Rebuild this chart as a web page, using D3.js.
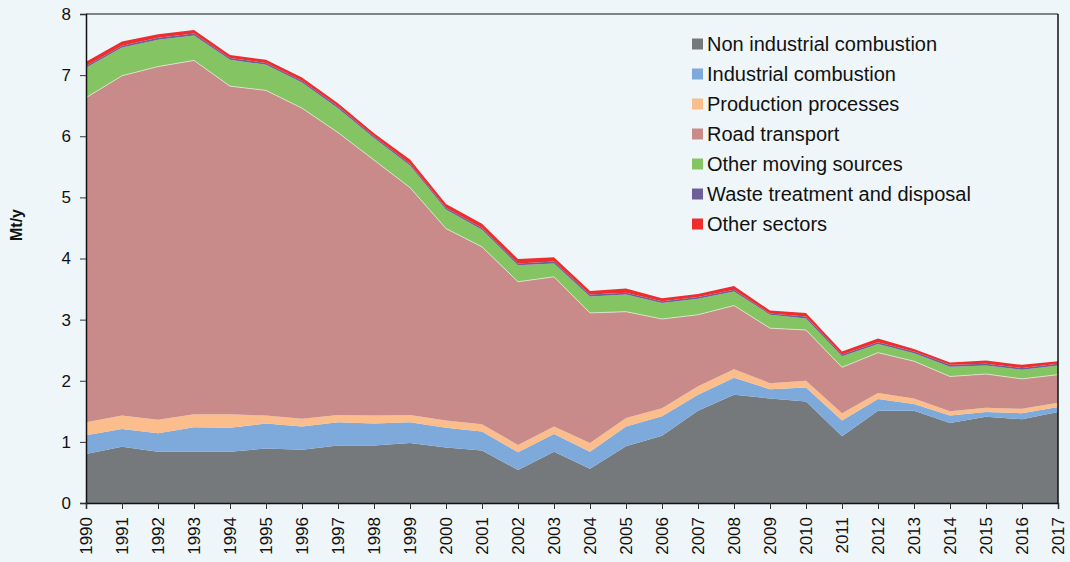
<!DOCTYPE html>
<html>
<head>
<meta charset="utf-8">
<script src="https://cdn.jsdelivr.net/npm/d3@7"></script>
<style>
  body { margin: 0; background: #eef6fa; }
  svg { display: block; font-family: "Liberation Sans", Arial, sans-serif; }
</style>
</head>
<body>
<svg class="chart" width="1070" height="562"></svg>
<script>
// stacked area of emissions by sector, Mt/y

var years = d3.range(1990, 2018);

var sectors = ["Non industrial combustion", "Industrial combustion", "Production processes",
               "Road transport", "Other moving sources", "Waste treatment and disposal", "Other sectors"];

// values, one entry per year 1990..2017
var nonIndustrial = [0.80, 0.92, 0.84, 0.84, 0.84, 0.89, 0.87, 0.94, 0.94, 0.98, 0.91, 0.86, 0.54, 0.84,
                     0.56, 0.93, 1.10, 1.51, 1.77, 1.71, 1.66, 1.09, 1.51, 1.51, 1.31, 1.41, 1.37, 1.49];
var industrial    = [0.31, 0.29, 0.30, 0.40, 0.39, 0.41, 0.38, 0.38, 0.36, 0.34, 0.32, 0.31, 0.29, 0.29,
                     0.28, 0.32, 0.32, 0.26, 0.28, 0.15, 0.23, 0.26, 0.19, 0.11, 0.12, 0.08, 0.10, 0.08];
var production    = [0.21, 0.22, 0.22, 0.21, 0.22, 0.13, 0.13, 0.12, 0.13, 0.12, 0.12, 0.12, 0.12, 0.12,
                     0.14, 0.14, 0.13, 0.14, 0.14, 0.10, 0.11, 0.12, 0.10, 0.09, 0.07, 0.07, 0.07, 0.07];
var road          = [5.31, 5.56, 5.78, 5.79, 5.37, 5.32, 5.08, 4.62, 4.18, 3.72, 3.14, 2.90, 2.67, 2.45,
                     2.13, 1.74, 1.46, 1.17, 1.04, 0.90, 0.83, 0.75, 0.66, 0.61, 0.57, 0.55, 0.49, 0.46];
var otherMoving   = [0.49, 0.46, 0.44, 0.41, 0.43, 0.42, 0.42, 0.40, 0.36, 0.36, 0.31, 0.28, 0.27, 0.22,
                     0.27, 0.28, 0.26, 0.26, 0.23, 0.22, 0.19, 0.18, 0.14, 0.13, 0.16, 0.14, 0.15, 0.15];
var waste         = [0.03, 0.03, 0.03, 0.03, 0.03, 0.03, 0.03, 0.03, 0.03, 0.03, 0.03, 0.03, 0.03, 0.03,
                     0.03, 0.03, 0.03, 0.03, 0.03, 0.02, 0.03, 0.03, 0.03, 0.03, 0.03, 0.03, 0.03, 0.03];
var otherSectors  = [0.07, 0.07, 0.06, 0.06, 0.05, 0.05, 0.05, 0.05, 0.05, 0.07, 0.06, 0.07, 0.07, 0.07,
                     0.06, 0.07, 0.05, 0.05, 0.06, 0.05, 0.06, 0.05, 0.06, 0.04, 0.04, 0.05, 0.05, 0.04];

var yTicks = [0, 1, 2, 3, 4, 5, 6, 7, 8];

var colors = ["#76797b", "#7eaadb", "#fbbd8b", "#c88b8a", "#84c462", "#6f5f98", "#ee2d2f"];

var series = [nonIndustrial, industrial, production, road, otherMoving, waste, otherSectors];

// build rows for d3.stack
var rows = years.map(function (yr, i) {
  var row = { year: yr };
  sectors.forEach(function (s, j) { row[s] = series[j][i]; });
  return row;
});

var svg = d3.select(".chart"),
    margin = { top: 14, right: 12, bottom: 59, left: 86 },
    width = +svg.attr("width") - margin.left - margin.right,
    height = +svg.attr("height") - margin.top - margin.bottom;

var g = svg.append("g").attr("transform", "translate(" + margin.left + "," + margin.top + ")");

var x = d3.scaleLinear().domain([1990, 2017]).range([0, width]);
var y = d3.scaleLinear().domain([0, 8]).range([height, 0]);

var stacked = d3.stack().keys(sectors)(rows);

var area = d3.area()
    .x(function (d) { return x(d.data.year); })
    .y0(function (d) { return y(d[0]); })
    .y1(function (d) { return y(d[1]); });

g.selectAll(".layer")
  .data(stacked)
  .enter().append("path")
    .attr("class", "layer")
    .attr("d", area)
    .attr("fill", function (d, i) { return colors[i]; });

// thin light line on top of road transport, as in the original
g.append("path")
  .datum(stacked[3])
  .attr("fill", "none")
  .attr("stroke", "#e4e9d8")
  .attr("stroke-width", 0.8)
  .attr("d", d3.line()
      .x(function (d) { return x(d.data.year); })
      .y(function (d) { return y(d[1]); }));

// frame: top and right
g.append("line").attr("x1", 0).attr("x2", width).attr("y1", 0).attr("y2", 0)
  .attr("stroke", "#5a5e62").attr("stroke-width", 1.5);
g.append("line").attr("x1", width).attr("x2", width).attr("y1", 0).attr("y2", height)
  .attr("stroke", "#111").attr("stroke-width", 1.5);

// y axis
var yAxis = g.append("g")
  .call(d3.axisLeft(y).tickValues(yTicks).tickSize(6).tickPadding(9).tickFormat(d3.format("d")));
yAxis.select(".domain").attr("stroke", "#111").attr("stroke-width", 1.5);
yAxis.selectAll(".tick line").attr("stroke", "#333");
yAxis.selectAll(".tick text").attr("font-size", 17).attr("fill", "#111")
  .attr("font-family", "'Liberation Sans', Arial, sans-serif");

// x axis with rotated year labels
var xAxis = g.append("g")
  .attr("transform", "translate(0," + height + ")")
  .call(d3.axisBottom(x).tickValues(years).tickSize(6).tickFormat(d3.format("d")));
xAxis.select(".domain").attr("stroke", "#111").attr("stroke-width", 1.5);
xAxis.selectAll(".tick line").attr("stroke", "#333");
xAxis.selectAll(".tick text")
  .attr("font-size", 17).attr("fill", "#111")
  .attr("font-family", "'Liberation Sans', Arial, sans-serif")
  .attr("transform", "rotate(-90)")
  .attr("text-anchor", "end")
  .attr("x", -14).attr("y", 0).attr("dy", "0.35em");

// y label
svg.append("text")
  .attr("transform", "translate(22,225) rotate(-90)")
  .attr("text-anchor", "middle")
  .attr("font-size", 16).attr("font-weight", "bold").attr("fill", "#111")
  .text("Mt/y");

// legend
var legend = svg.append("g").attr("transform", "translate(692,44)");
var item = legend.selectAll(".item")
  .data(sectors)
  .enter().append("g")
    .attr("class", "item")
    .attr("transform", function (d, i) { return "translate(0," + (i * 30) + ")"; });
item.append("rect")
  .attr("x", 0).attr("y", -5.5).attr("width", 11).attr("height", 11)
  .attr("fill", function (d, i) { return colors[i]; });
item.append("text")
  .attr("x", 15).attr("dy", "0.35em")
  .attr("font-size", 20).attr("fill", "#111")
  .text(function (d) { return d; });
</script>
</body>
</html>
